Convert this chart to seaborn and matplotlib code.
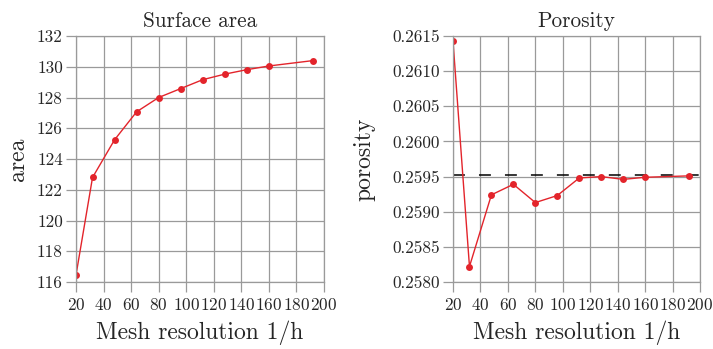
import matplotlib
matplotlib.use("Agg")
import matplotlib.pyplot as plt
import seaborn as sns
from matplotlib.ticker import FormatStrFormatter, MultipleLocator

# Mesh resolutions and measured quantities
resolution = [20, 32, 48, 64, 80, 96, 112, 128, 144, 160, 192]
area = [116.45, 122.80, 125.25, 127.07, 128.00, 128.58, 129.16, 129.52, 129.81, 130.05, 130.40]
porosity = [0.26143, 0.25822, 0.25924, 0.25939, 0.25913, 0.25923,
            0.25948, 0.25950, 0.25946, 0.25949, 0.25951]
porosity_reference = 0.25952

sns.set_theme(style="white")
plt.rcParams["font.family"] = ["cmr10", "DejaVu Serif"]
plt.rcParams["mathtext.fontset"] = "cm"
plt.rcParams["axes.formatter.use_mathtext"] = True

red = "#e3242b"
grid_col = "#9a9a9a"

fig = plt.figure(figsize=(7.13, 3.49), dpi=100)
W, H = 713, 349
ax1 = fig.add_axes([76 / W, 1 - 282 / H, (324 - 76) / W, (282 - 36) / H])
ax2 = fig.add_axes([453 / W, 1 - 282 / H, (700 - 453) / W, (282 - 36) / H])

sns.lineplot(x=resolution, y=area, marker="o", color=red, ax=ax1,
             markersize=5, markeredgewidth=0, linewidth=1.0)
ax2.axhline(porosity_reference, color="black", linewidth=1.1, dashes=(7.8, 9.2))
sns.lineplot(x=resolution, y=porosity, marker="o", color=red, ax=ax2,
             markersize=5, markeredgewidth=0, linewidth=1.0)

ax1.set_ylim(116, 132)
ax1.yaxis.set_major_locator(MultipleLocator(2))
ax1.yaxis.set_major_formatter(FormatStrFormatter("%d"))
ax2.set_ylim(0.2580, 0.2615)
ax2.yaxis.set_major_locator(MultipleLocator(0.0005))
ax2.yaxis.set_major_formatter(FormatStrFormatter("%.4f"))

for ax, title, ylabel, ylab_x in [(ax1, "Surface area", "area", -0.19),
                                  (ax2, "Porosity", "porosity", -0.315)]:
    ax.set_xlim(20, 200)
    ax.set_xticks(range(20, 201, 20))
    ax.set_title(title, fontsize=15.3, pad=6.5)
    ax.set_xlabel("Mesh resolution 1/h", fontsize=17, labelpad=6)
    ax.set_ylabel(ylabel, fontsize=17)
    ax.yaxis.set_label_coords(ylab_x, 0.5)
    ax.grid(True, color=grid_col, linewidth=0.9)
    ax.set_axisbelow(True)
    for s in ax.spines.values():
        s.set_color(grid_col)
        s.set_linewidth(0.9)
    ax.tick_params(axis="both", which="major", direction="out", length=7,
                   width=0.9, color=grid_col, pad=2.5,
                   bottom=True, left=True)
    ax.tick_params(axis="x", labelsize=12.4, pad=3.5)
    ax.tick_params(axis="y", labelsize=12.3)

fig.savefig("out.png", dpi=100)
